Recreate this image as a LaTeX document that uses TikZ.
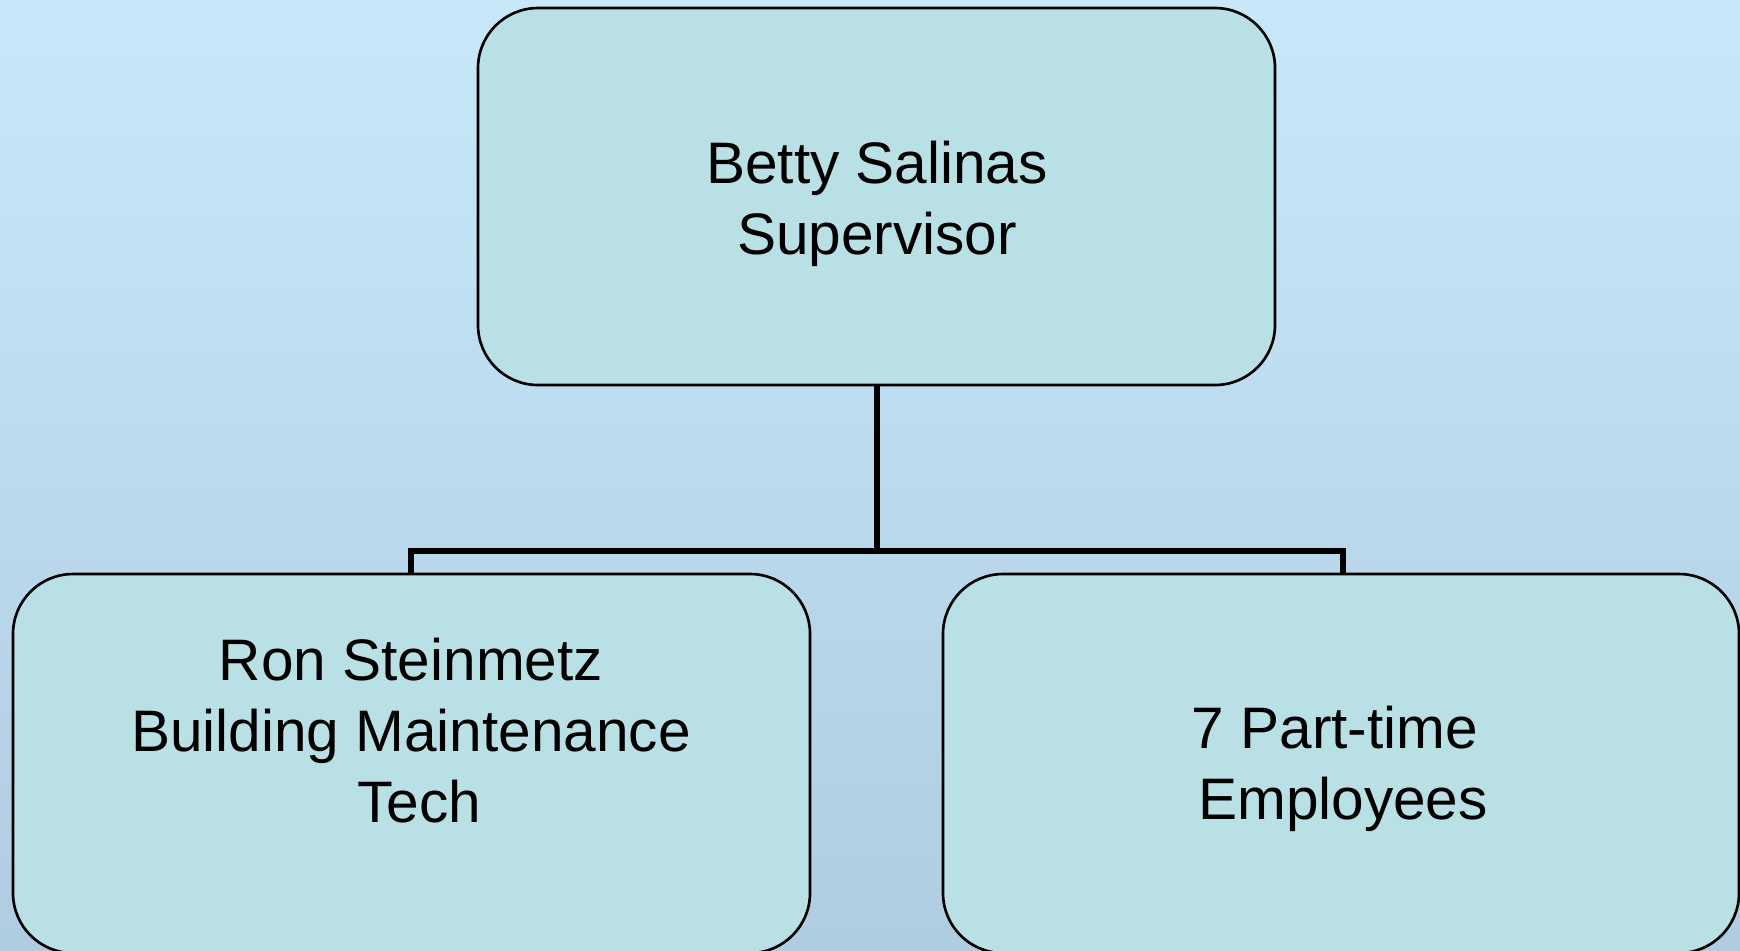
\documentclass[tikz,border=0pt]{standalone}
\usepackage{fontspec}
\setmainfont{Liberation Sans}
\definecolor{bgtop}{RGB}{200,232,250}
\definecolor{bgbot}{RGB}{176,204,224}
\definecolor{boxfill}{RGB}{185,224,228}
\newcommand{\padsp}{\rule{0.278em}{0pt}}
\tikzset{
  orgbox/.style={draw=black, line width=0.75pt, fill=boxfill, rounded corners=0.6cm},
  lbl/.style={align=center, font=\fontsize{16.65}{20.2}\selectfont, text=black, inner sep=0pt},
  conn/.style={draw=black, line width=1.7pt}
}
\begin{document}
\begin{tikzpicture}[x=0.01cm, y=-0.01cm]
\useasboundingbox (0,0) rectangle (1740,950);
\shade[top color=bgtop, bottom color=bgbot] (0,0) rectangle (1740,950);
\begin{scope}
\clip (0,0) rectangle (1740,950);
\draw[orgbox] (478,8) rectangle (1275,385);
\draw[orgbox] (13,574) rectangle (810,953);
\draw[orgbox] (943,574) rectangle (1739,953);
\end{scope}
\coordinate (topb) at (877,385);
\coordinate (jn) at (877,551);
\coordinate (lj) at (411,551);
\coordinate (rj) at (1343,551);
\coordinate (lt) at (411,574);
\coordinate (rt) at (1343,574);
\node[lbl] (betty) at (877,204) {Betty Salinas\\Supervisor};
\node[lbl] (ron) at (411,731) {Ron Steinmetz\\Building Maintenance\\\padsp Tech};
\node[lbl] (part) at (1343,769) {7 Part-time\padsp\\Employees};
\draw[conn] (topb) -- (jn);
\draw[conn] (lt) -- (lj) -- (rj) -- (rt);
\end{tikzpicture}
\end{document}
